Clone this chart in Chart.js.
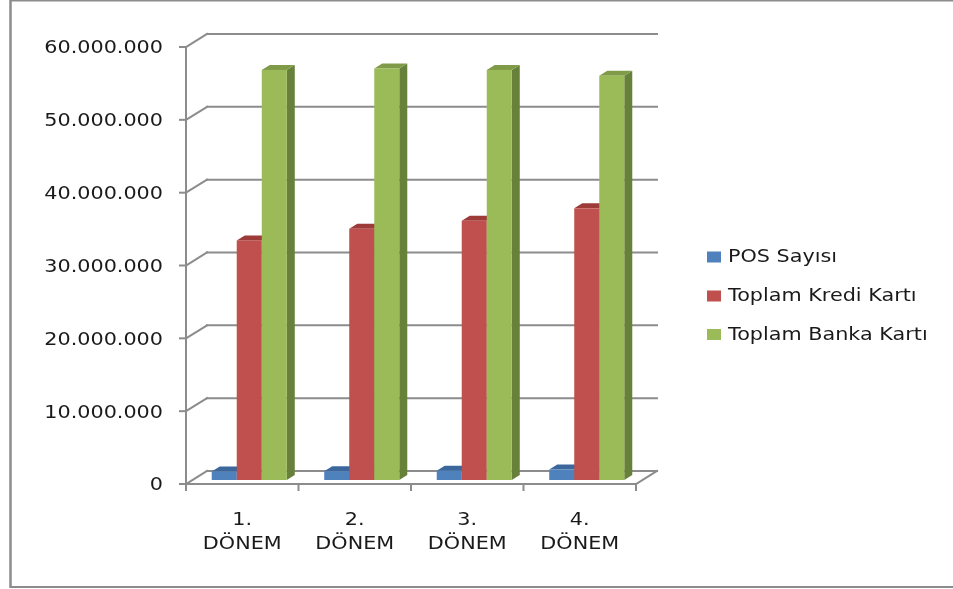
<!DOCTYPE html>
<html lang="tr">
<head>
<meta charset="utf-8">
<title>POS ve Kart Sayıları</title>
<script src="https://cdn.jsdelivr.net/npm/chart.js@4"></script>
<style>
    html, body { margin: 0; padding: 0; background: #fff; }
    #wrap { position: relative; width: 953px; height: 589px; }
</style>
</head>
<body>
<div id="wrap"><canvas id="chart"></canvas></div>
<script>
// --- Data ---
const PERIODS = [['1.', 'DÖNEM'], ['2.', 'DÖNEM'], ['3.', 'DÖNEM'], ['4.', 'DÖNEM']];
const SERIES_NAMES = ['POS Sayısı', 'Toplam Kredi Kartı', 'Toplam Banka Kartı'];
const POS_COUNT = [1170000, 1200000, 1280000, 1440000];
const CREDIT_CARDS = [32900000, 34500000, 35600000, 37300000];
const BANK_CARDS = [56300000, 56500000, 56300000, 55500000];
const Y_MAX = 60000000;
const Y_STEP = 10000000;

// --- Colours (Office 2007 palette): front, top, side ---
const FACES = [
    { front: '#4f81bd', top: '#3b679c', side: '#34598a' },
    { front: '#c0504d', top: '#9c3b38', side: '#8a3331' },
    { front: '#9bbb59', top: '#7f9b48', side: '#67803a' },
];
const LINE = '#8c8c8c';
const FONT = "'DejaVu Sans', sans-serif";
const TEXT_STRETCH = 1.22; // the source picture is stretched sideways

// Oblique depth of the plot box and of the bars inside it.
const WALL = { dx: 21, dy: -13 };
const BAR_FRONT = { dx: 7, dy: -4 };
const BAR_DEPTH = { dx: 8, dy: -5 };

function line(ctx, x1, y1, x2, y2) {
    ctx.beginPath();
    ctx.moveTo(x1, y1);
    ctx.lineTo(x2, y2);
    ctx.stroke();
}

function poly(ctx, pts, fill) {
    ctx.beginPath();
    ctx.moveTo(pts[0][0], pts[0][1]);
    for (let i = 1; i < pts.length; i++) ctx.lineTo(pts[i][0], pts[i][1]);
    ctx.closePath();
    ctx.fillStyle = fill;
    ctx.fill();
}

// Widen every label around its own anchor, so alignment is kept.
function stretchText(ctx) {
    if (ctx._stretched) return;
    const fill = ctx.fillText;
    ctx.fillText = function (text, x, y, maxWidth) {
        this.save();
        this.translate(x, y);
        this.scale(TEXT_STRETCH, 1);
        if (maxWidth === undefined) fill.call(this, text, 0, 0);
        else fill.call(this, text, 0, 0, maxWidth / TEXT_STRETCH);
        this.restore();
    };
    ctx._stretched = true;
}

// box3d draws the Excel-like back wall, floor and extruded columns.
const box3d = {
    id: 'box3d',
    beforeDraw(chart) {
        const { ctx } = chart;
        stretchText(ctx);
        // outer frame (right edge runs off the picture)
        ctx.save();
        ctx.strokeStyle = LINE;
        ctx.lineWidth = 2.5;
        line(ctx, 10.5, 0, 10.5, 588);
        ctx.lineWidth = 2;
        line(ctx, 10, 0.5, 953, 0.5);
        line(ctx, 10, 587, 953, 587);
        ctx.restore();
    },
    beforeDatasetsDraw(chart) {
        const { ctx, chartArea: a } = chart;
        const xs = chart.scales.x;
        const ys = chart.scales.y;
        ctx.save();
        ctx.strokeStyle = LINE;
        ctx.lineWidth = 2;
        ctx.lineCap = 'square';

        // back wall gridlines + left wall diagonals + y tick marks
        ys.ticks.forEach((t) => {
            const y = ys.getPixelForValue(t.value);
            line(ctx, a.left, y, a.left + WALL.dx, y + WALL.dy);
            line(ctx, a.left + WALL.dx, y + WALL.dy, a.right + WALL.dx, y + WALL.dy);
            line(ctx, a.left - 6, y, a.left, y);
        });
        // front axis line
        line(ctx, a.left, a.top, a.left, a.bottom);
        // floor front edge and right diagonal
        line(ctx, a.left, a.bottom, a.right, a.bottom);
        line(ctx, a.right, a.bottom, a.right + WALL.dx, a.bottom + WALL.dy);
        // category boundary ticks
        const step = xs.getPixelForValue(1) - xs.getPixelForValue(0);
        for (let i = 0; i <= PERIODS.length; i++) {
            const x = xs.getPixelForValue(0) - step / 2 + i * step;
            line(ctx, x, a.bottom, x, a.bottom + 6);
        }
        ctx.restore();

        // columns, drawn left to right so neighbours cover hidden sides
        const metas = chart.data.datasets.map((_, d) => chart.getDatasetMeta(d));
        for (let i = 0; i < PERIODS.length; i++) {
            metas.forEach((meta, d) => {
                const el = meta.data[i];
                if (!el) return;
                const { x, y, base, width } = el.getProps(['x', 'y', 'base', 'width'], true);
                const l = x - width / 2 + BAR_FRONT.dx;
                const r = x + width / 2 + BAR_FRONT.dx;
                const top = y + BAR_FRONT.dy;
                const bot = base + BAR_FRONT.dy;
                const f = FACES[d];
                poly(ctx, [[r, top], [r + BAR_DEPTH.dx, top + BAR_DEPTH.dy],
                    [r + BAR_DEPTH.dx, bot + BAR_DEPTH.dy], [r, bot]], f.side);
                poly(ctx, [[l, top], [r, top], [r + BAR_DEPTH.dx, top + BAR_DEPTH.dy],
                    [l + BAR_DEPTH.dx, top + BAR_DEPTH.dy]], f.top);
                ctx.fillStyle = f.front;
                ctx.fillRect(l, top, r - l, bot - top);
            });
        }
        return false;
    },
    afterDraw(chart) {
        // legend on the right
        const { ctx } = chart;
        const rows = [257, 296, 334.5];
        ctx.save();
        ctx.font = `17px ${FONT}`;
        ctx.textBaseline = 'middle';
        chart.data.datasets.forEach((ds, d) => {
            const cy = rows[d];
            ctx.fillStyle = FACES[d].front;
            ctx.fillRect(707, cy - 5.5, 14, 11);
            ctx.fillStyle = '#1a1a1a';
            ctx.fillText(ds.label, 728, cy + 1);
        });
        ctx.restore();
    },
};

new Chart(document.getElementById('chart'), {
    type: 'bar',
    data: {
        labels: PERIODS,
        datasets: [
            { label: SERIES_NAMES[0], data: POS_COUNT, backgroundColor: FACES[0].front },
            { label: SERIES_NAMES[1], data: CREDIT_CARDS, backgroundColor: FACES[1].front },
            { label: SERIES_NAMES[2], data: BANK_CARDS, backgroundColor: FACES[2].front },
        ],
    },
    options: {
        responsive: true,
        maintainAspectRatio: false,
        animation: false,
        categoryPercentage: 0.667,
        barPercentage: 1.0,
        layout: { padding: { top: 47, right: 317, left: 0, bottom: 0 } },
        plugins: {
            legend: { display: false },
            tooltip: { enabled: false },
        },
        scales: {
            x: {
                grid: { display: false, drawTicks: false },
                border: { display: false },
                ticks: {
                    color: '#1a1a1a',
                    padding: 25,
                    font: { family: FONT, size: 17, lineHeight: 24 / 17 },
                },
                afterFit: (s) => { s.height = 105; },
            },
            y: {
                min: 0,
                max: Y_MAX,
                grid: { display: false, drawTicks: false },
                border: { display: false },
                ticks: {
                    stepSize: Y_STEP,
                    color: '#1a1a1a',
                    padding: 23,
                    labelOffset: 2,
                    font: { family: FONT, size: 17 },
                    callback: (v) => v.toLocaleString('tr-TR'),
                },
                afterFit: (s) => { s.width = 186; },
            },
        },
    },
    plugins: [box3d],
});
</script>
</body>
</html>
